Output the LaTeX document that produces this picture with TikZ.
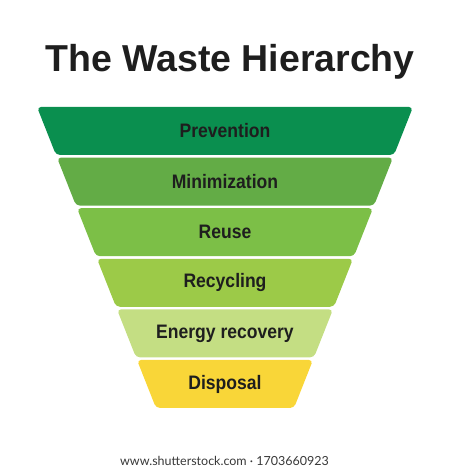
\documentclass[tikz,border=0pt]{standalone}
\usepackage{fontspec}
\setmainfont{Liberation Sans}
\newfontfamily\tierfont[FakeStretch=0.9]{Liberation Sans}
\newfontfamily\urlfont{Lato}

\definecolor{textdark}{HTML}{1E1E1E}
\definecolor{prevgreen}{HTML}{0A8F4F}
\definecolor{mingreen}{HTML}{63AC46}
\definecolor{reusegreen}{HTML}{7CBF47}
\definecolor{recygreen}{HTML}{9CCA48}
\definecolor{energygreen}{HTML}{C4DE83}
\definecolor{dispyellow}{HTML}{F9D638}

\begin{document}
\begin{tikzpicture}[x=1pt, y=1pt,
    tier/.style = {rounded corners=4pt},
    tierlabel/.style = {inner sep=0pt, text=textdark,
        font={\tierfont\bfseries\fontsize{19.5}{20}\selectfont}}]
    \useasboundingbox (0,0) rectangle (450,470);

    \node[font={\bfseries\fontsize{37.5}{40}\selectfont}, text=textdark, anchor=base] (title) at (230,398) {The Waste Hierarchy};

    % funnel, widest on top
    \fill[tier, prevgreen] (37,363) -- (413,363) -- (394,315) -- (56,315) -- cycle;
    \fill[tier, mingreen] (57,312.4) -- (393,312.4) -- (374,264.4) -- (76,264.4) -- cycle;
    \fill[tier, reusegreen] (77,261.8) -- (373,261.8) -- (354,213.8) -- (96,213.8) -- cycle;
    \fill[tier, recygreen] (97,211.2) -- (353,211.2) -- (334,163.2) -- (116,163.2) -- cycle;
    \fill[tier, energygreen] (117,160.6) -- (333,160.6) -- (314,112.6) -- (136,112.6) -- cycle;
    \fill[tier, dispyellow] (137,110) -- (313,110) -- (294,62) -- (156,62) -- cycle;

    \node[tierlabel] (prevention) at (225,339) {Prevention};
    \node[tierlabel] (minimization) at (225,288.4) {Minimization};
    \node[tierlabel] (reuse) at (225,237.8) {Reuse};
    \node[tierlabel] (recycling) at (225,187.2) {Recycling};
    \node[tierlabel] (energy) at (225,136.6) {Energy recovery};
    \node[tierlabel] (disposal) at (225,86) {Disposal};

    \node[font={\urlfont\fontsize{12.5}{14}\selectfont}, text=black!78, anchor=base] (credit) at (224.5,5) {www.shutterstock.com · 1703660923};
\end{tikzpicture}
\end{document}
